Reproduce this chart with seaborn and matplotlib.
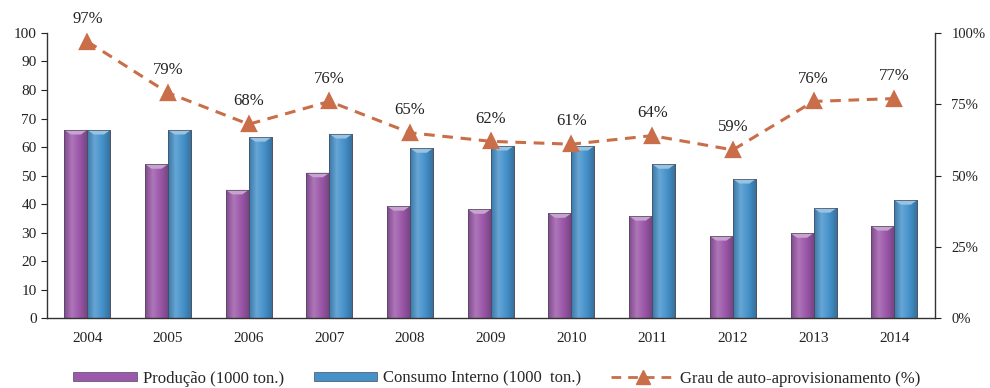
import matplotlib
matplotlib.use("Agg")
import matplotlib.pyplot as plt
import numpy as np
from matplotlib.patches import Rectangle, Polygon
from matplotlib.lines import Line2D
from matplotlib.colors import LinearSegmentedColormap, to_rgb
from matplotlib.ticker import FixedLocator, PercentFormatter
import seaborn as sns
import pandas as pd

anos = ["2004", "2005", "2006", "2007", "2008", "2009", "2010", "2011", "2012", "2013", "2014"]
producao = [66, 54, 45, 51, 39.3, 38.2, 36.8, 35.8, 28.8, 29.8, 32.3]
consumo = [66, 66, 63.5, 64.6, 59.6, 60.4, 60.4, 54, 48.8, 38.6, 41.4]
grau = [97, 79, 68, 76, 65, 62, 61, 64, 59, 76, 77]

lab_prod = "Produção (1000 ton.)"
lab_cons = "Consumo Interno (1000  ton.)"
lab_grau = "Grau de auto-aprovisionamento (%)"

sns.set_theme(style="white")
plt.rcParams["font.family"] = ["Liberation Serif", "DejaVu Serif"]

c_prod = "#9c58aa"
c_cons = "#4592cb"
c_line = "#c96e48"

df = pd.DataFrame({
    "Ano": anos * 2,
    "valor": producao + consumo,
    "serie": [lab_prod] * len(anos) + [lab_cons] * len(anos),
})

fig = plt.figure(figsize=(9.9, 3.88), dpi=100)
ax = fig.add_axes([0.0475, 0.180, 0.8965, 0.735])

sns.barplot(data=df, x="Ano", y="valor", hue="serie", order=anos,
            hue_order=[lab_prod, lab_cons], palette=[c_prod, c_cons],
            saturation=1, width=0.57, gap=0, edgecolor="#4a4a5a", linewidth=0.5,
            legend=False, ax=ax)


def shade(col, f):
    r = np.array(to_rgb(col))
    return tuple(r * f) if f < 1 else tuple(r + (1 - r) * (f - 1))


# give each bar a rounded, lit look: horizontal gradient plus a pale top cap
for patch in list(ax.patches):
    x0, y0 = patch.get_x(), patch.get_y()
    w, h = patch.get_width(), patch.get_height()
    if h <= 0:
        continue
    base = patch.get_facecolor()[:3]
    cmap = LinearSegmentedColormap.from_list(
        "bar", [shade(base, 0.82), shade(base, 1.18), base, shade(base, 0.78)])
    grad = np.linspace(0, 1, 64).reshape(1, -1)
    im = ax.imshow(grad, cmap=cmap, aspect="auto", extent=(x0, x0 + w, y0, y0 + h),
                   zorder=patch.get_zorder() + 0.1, interpolation="bilinear")
    im.set_clip_path(patch)
    cap = Polygon([(x0, y0 + h), (x0 + w, y0 + h), (x0 + w * 0.72, y0 + h - 1.6),
                   (x0 + w * 0.28, y0 + h - 1.6)], closed=True,
                  facecolor=shade(base, 1.45), edgecolor="none",
                  zorder=patch.get_zorder() + 0.2)
    ax.add_patch(cap)
    edge = Rectangle((x0, y0), w, h, facecolor="none", edgecolor="#4a4a5a",
                     linewidth=0.5, zorder=patch.get_zorder() + 0.3)
    ax.add_patch(edge)

ax2 = ax.twinx()
sns.pointplot(x=anos, y=grau, ax=ax2, color=c_line, markers="^",
              linestyles=(0, (3.5, 2.5)), markersize=10, linewidth=2.2, errorbar=None)
for i, g in enumerate(grau):
    ax2.text(i, g + 5.2, f"{g}%", ha="center", va="bottom", fontsize=12,
             color="#222222", clip_on=False)

for a in (ax, ax2):
    a.set_xlim(-0.5, len(anos) - 0.5)
    a.set_xlabel("")
    a.set_ylabel("")

ax.set_ylim(0, 100)
ax2.set_ylim(0, 100)
ax.set_yticks(range(0, 101, 10))
ax2.set_yticks([0, 25, 50, 75, 100])
ax2.yaxis.set_major_formatter(PercentFormatter(decimals=0))

ax.set_xticks(range(len(anos)))
ax.set_xticklabels(anos)
ax.xaxis.set_minor_locator(FixedLocator([i + 0.5 for i in range(len(anos) - 1)]))
ax.tick_params(axis="x", which="major", length=0, labelsize=11, pad=10, colors="#222222")
ax.tick_params(axis="x", which="minor", length=4, width=0.8, direction="out", color="#333333")
ax.tick_params(axis="y", length=4, width=0.8, direction="out", labelsize=11,
               left=True, colors="#222222")
ax2.tick_params(axis="y", length=4, width=0.8, direction="out", labelsize=10.5,
                right=True, colors="#222222", pad=8)
ax2.tick_params(axis="x", length=0)

for s in ("top", "right"):
    ax.spines[s].set_visible(False)
for s in ("top", "left", "bottom"):
    ax2.spines[s].set_visible(False)
for sp in (ax.spines["left"], ax.spines["bottom"], ax2.spines["right"]):
    sp.set_color("#333333")
    sp.set_linewidth(1.0)

handles = [
    Rectangle((0, 0), 1, 1, facecolor=c_prod, edgecolor="#4a4a5a", linewidth=0.5),
    Rectangle((0, 0), 1, 1, facecolor=c_cons, edgecolor="#4a4a5a", linewidth=0.5),
    Line2D([], [], color=c_line, linestyle=(0, (3.5, 2.5)), linewidth=2, marker="^",
           markersize=10),
]
fig.legend(handles, [lab_prod, lab_cons, lab_grau], loc="lower center",
           bbox_to_anchor=(0.502, -0.035), ncol=3, frameon=False, fontsize=12,
           handlelength=3.8, handleheight=0.4, columnspacing=1.8, handletextpad=0.35)

fig.savefig("out.png", dpi=100, facecolor="white")
